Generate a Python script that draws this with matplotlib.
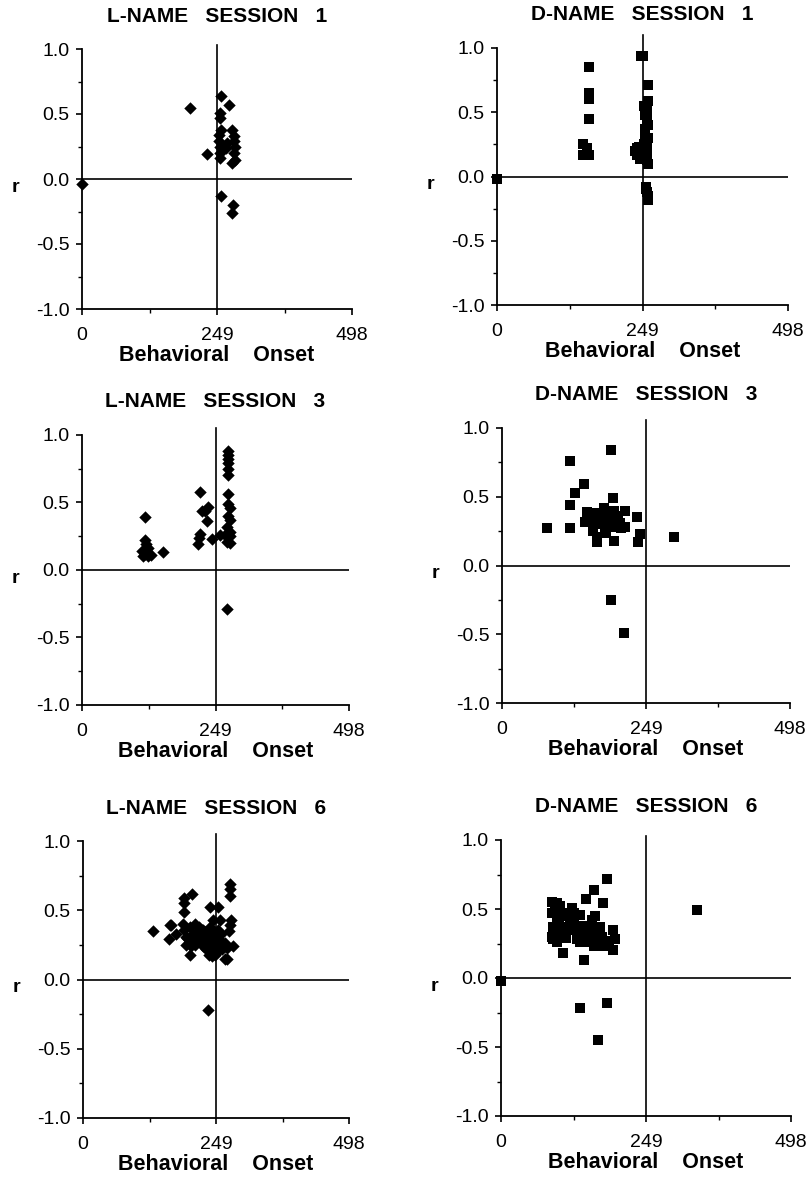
import numpy as np
import matplotlib
matplotlib.use("Agg")
import matplotlib.pyplot as plt

plt.rcParams['font.family'] = ['Liberation Sans', 'DejaVu Sans']

# values (x = behavioral onset, r = correlation)
l1_x = [0, 199, 230, 256, 255, 255, 256, 252, 252, 255, 255, 255, 272, 277, 280,
        280, 283, 280, 283, 277, 268, 265, 256, 278, 277]
l1_r = [-0.04, 0.55, 0.19, 0.64, 0.51, 0.47, 0.38, 0.34, 0.29, 0.25, 0.20, 0.16, 0.57, 0.38, 0.33,
        0.29, 0.25, 0.20, 0.15, 0.12, 0.28, 0.24, -0.13, -0.20, -0.26]

d1_x = [0, 158, 158, 158, 158, 147, 154, 148, 158, 246, 250, 259, 259, 254, 256,
        258, 254, 259, 236, 239, 243, 256, 258, 256, 255, 257, 259, 252, 256, 254,
        257, 252, 256, 240, 244, 255, 258, 254]
d1_r = [-0.02, 0.85, 0.65, 0.60, 0.45, 0.25, 0.22, 0.17, 0.17, 0.94, 0.94, 0.71, 0.59, 0.48, 0.45,
        0.40, 0.35, 0.30, 0.20, 0.22, 0.23, 0.15, 0.10, 0.13, -0.08, -0.12, -0.18, 0.55, 0.52, 0.37,
        0.27, 0.25, 0.20, 0.17, 0.14, -0.10, -0.15, 0.33]

l3_x = [118, 117, 120, 123, 111, 117, 129, 114, 123, 152, 220, 223, 229, 235, 233,
        242, 220, 219, 217, 273, 273, 273, 273, 273, 273, 273, 273, 276, 273, 276,
        270, 276, 267, 276, 270, 276, 257, 270]
l3_r = [0.39, 0.22, 0.19, 0.16, 0.14, 0.12, 0.11, 0.10, 0.10, 0.13, 0.58, 0.44, 0.44, 0.47, 0.36,
        0.23, 0.27, 0.24, 0.19, 0.88, 0.85, 0.82, 0.79, 0.75, 0.70, 0.56, 0.49, 0.46, 0.40, 0.37,
        0.32, 0.28, 0.26, 0.25, 0.21, 0.20, 0.26, -0.29]

d3_x = [77, 118, 127, 141, 117, 117, 147, 144, 164, 164, 164, 176, 181, 189, 192,
        193, 199, 196, 193, 213, 213, 234, 239, 236, 298, 189, 211, 152, 170, 178,
        184, 204, 158, 168, 160, 172, 186, 200, 205, 180]
d3_r = [0.27, 0.76, 0.53, 0.59, 0.44, 0.27, 0.39, 0.32, 0.38, 0.21, 0.17, 0.42, 0.33, 0.84, 0.49,
        0.40, 0.33, 0.28, 0.18, 0.40, 0.28, 0.35, 0.23, 0.17, 0.21, -0.25, -0.49, 0.35, 0.33, 0.28,
        0.40, 0.31, 0.25, 0.30, 0.30, 0.36, 0.30, 0.36, 0.27, 0.24]

l6_x = [131, 162, 165, 161, 175, 190, 190, 190, 205, 237, 253, 256, 275, 275, 275,
        278, 275, 274, 280, 265, 270, 234, 201, 190, 193, 200, 206, 212, 218, 193,
        203, 225, 231, 234, 237, 243, 243, 250, 237, 246, 256, 262, 259, 246, 218,
        187, 209, 225, 247, 228, 253, 195, 200, 205, 210, 215, 220, 225, 230, 235,
        240, 245, 250, 255, 260, 265, 270, 228, 222, 214, 244, 252, 236, 242, 248]
l6_r = [0.35, 0.39, 0.39, 0.29, 0.33, 0.59, 0.55, 0.49, 0.62, 0.52, 0.52, 0.43, 0.69, 0.65, 0.60,
        0.43, 0.39, 0.35, 0.24, 0.15, 0.15, -0.22, 0.18, 0.36, 0.31, 0.38, 0.33, 0.28, 0.31, 0.25,
        0.24, 0.36, 0.31, 0.26, 0.38, 0.43, 0.24, 0.21, 0.21, 0.19, 0.28, 0.26, 0.33, 0.33, 0.38,
        0.40, 0.40, 0.26, 0.29, 0.30, 0.36, 0.30, 0.27, 0.32, 0.25, 0.30, 0.27, 0.24, 0.22, 0.28,
        0.25, 0.22, 0.20, 0.24, 0.22, 0.26, 0.23, 0.34, 0.36, 0.34, 0.30, 0.27, 0.18, 0.17, 0.18]

d6_x = [0, 182, 160, 146, 175, 336, 87, 96, 87, 96, 102, 122, 136, 90, 96, 90,
        102, 110, 113, 107, 130, 136, 142, 147, 153, 156, 162, 170, 173, 159, 176,
        193, 196, 193, 135, 182, 166, 88, 118, 150, 92, 100, 105, 112, 118, 125,
        130, 140, 145, 150, 158, 163, 168, 178, 185, 96, 108, 125]
d6_r = [-0.02, 0.72, 0.64, 0.57, 0.54, 0.49, 0.55, 0.54, 0.47, 0.44, 0.52, 0.51, 0.46, 0.37, 0.33, 0.28,
        0.30, 0.37, 0.45, 0.18, 0.28, 0.26, 0.13, 0.37, 0.33, 0.42, 0.45, 0.37, 0.30, 0.23, 0.23,
        0.35, 0.28, 0.20, -0.22, -0.18, -0.45, 0.30, 0.40, 0.30, 0.50, 0.40, 0.34, 0.29, 0.35, 0.40,
        0.33, 0.38, 0.30, 0.26, 0.35, 0.27, 0.33, 0.27, 0.25, 0.26, 0.47, 0.47]

titles = ["L-NAME   SESSION   1", "D-NAME   SESSION   1",
          "L-NAME   SESSION   3", "D-NAME   SESSION   3",
          "L-NAME   SESSION   6", "D-NAME   SESSION   6"]
x_ticks = [0, 249, 498]
y_ticks = [-1.0, -0.5, 0.0, 0.5, 1.0]
y_labels = ["-1.0", "-0.5", "0.0", "0.5", "1.0"]

W, H = 811, 1179
# axes boxes in pixels: left, right, top, bottom
boxes = [(82, 352, 49, 309), (497, 788, 48, 305),
         (82, 349, 435, 705), (502, 790, 428, 703),
         (83, 349, 841, 1118), (501, 791, 840, 1116)]
line_tops = [1.03, 1.1, 1.05, 1.06, 1.05, 1.03]
series = [(l1_x, l1_r), (d1_x, d1_r), (l3_x, l3_r), (d3_x, d3_r), (l6_x, l6_r), (d6_x, d6_r)]

fig = plt.figure(figsize=(W / 100, H / 100), dpi=100)

for i, (box, (xs, rs), title) in enumerate(zip(boxes, series, titles)):
    left, right, top, bottom = box
    ax = fig.add_axes([left / W, 1 - bottom / H, (right - left) / W, (bottom - top) / H])
    ax.set_xlim(0, 498)
    ax.set_ylim(-1, 1)
    for s in ['top', 'right']:
        ax.spines[s].set_visible(False)
    for s in ['left', 'bottom']:
        ax.spines[s].set_linewidth(1.3)

    ax.axhline(0, color='black', lw=1.2, zorder=1)
    ax.plot([249, 249], [-1, line_tops[i]], color='black', lw=1.2, clip_on=False, zorder=1)

    if i % 2 == 0:
        ax.scatter(xs, rs, marker='D', s=40, color='black', linewidths=0, zorder=3, clip_on=False)
    else:
        ax.scatter(xs, rs, marker='s', s=42, color='black', linewidths=0, zorder=3, clip_on=False)

    ax.set_xticks(x_ticks)
    ax.set_xticklabels([str(t) for t in x_ticks])
    ax.set_xticks([124.5, 373.5], minor=True)
    ax.set_yticks(y_ticks)
    ax.set_yticklabels(y_labels)
    ax.set_yticks([-0.75, -0.25, 0.25, 0.75], minor=True)
    ax.tick_params(which='major', direction='out', length=4, width=1.2, labelsize=14)
    ax.tick_params(axis='x', which='major', pad=9)
    ax.tick_params(axis='y', which='major', pad=5)
    ax.tick_params(which='minor', direction='out', length=3, width=1.0)

    ax.text(0.5, 1 + 33 / (bottom - top), title, transform=ax.transAxes,
            ha='center', va='center', fontsize=15, fontweight='bold')
    ax.set_xlabel("Behavioral    Onset", fontsize=15.5, fontweight='bold', labelpad=1)
    ax.annotate("r", xy=(0, 0), xycoords=('axes fraction', 'data'),
                xytext=(-48, -6), textcoords='offset points',
                ha='center', va='center', fontsize=14, fontweight='bold')

fig.savefig("out.png", dpi=100)
